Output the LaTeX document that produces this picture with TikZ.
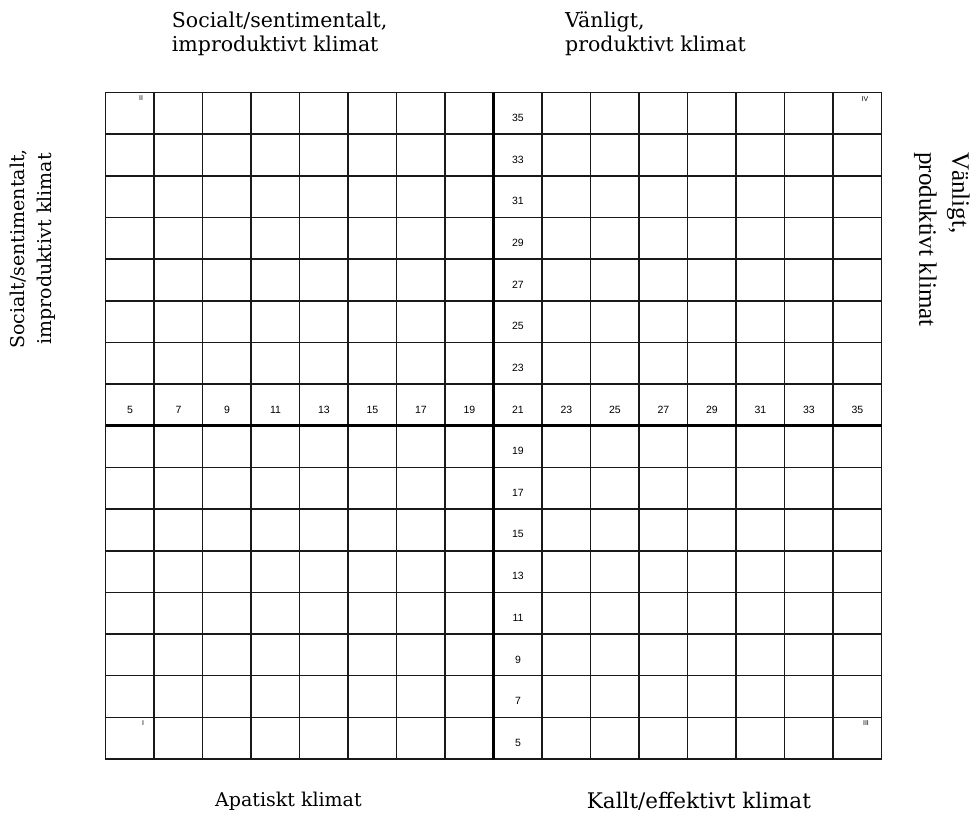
\documentclass[tikz,border=0pt]{standalone}
\usepackage{fontspec}
\setmainfont{DejaVu Serif}
\newfontfamily\numfont{Liberation Sans}
\newfontfamily\timesfont{Liberation Serif}

\begin{document}
\begin{tikzpicture}[x=1pt, y=-1pt,
        gridline/.style={line width=1.5pt, black!90},
        axisline/.style={line width=2.8pt, black},
        cellnum/.style={inner sep=0pt, font=\numfont\fontsize{10.5}{11}\selectfont},
        quadnum/.style={inner sep=0pt, font=\numfont\fontsize{7}{7}\selectfont},
        climate/.style={inner sep=0pt, font=\fontsize{19}{23.5}\selectfont, align=left}]
    \useasboundingbox (0,0) rectangle (972,814);
    \def\gx{105.7} \def\gy{92.5} \def\cw{48.5} \def\rh{41.66}
    \coordinate (NW) at (\gx,\gy);
    \coordinate (SE) at (\gx+16*\cw,\gy+16*\rh);
    \foreach \i in {1,...,15} {
        \draw[gridline] (\gx+\i*\cw,\gy) -- (\gx+\i*\cw,\gy+16*\rh);
        \draw[gridline] (\gx,\gy+\i*\rh) -- (\gx+16*\cw,\gy+\i*\rh);
    }
    \draw[gridline] (NW) rectangle (SE);
    \draw[axisline] (\gx+8*\cw,\gy) -- (\gx+8*\cw,\gy+16*\rh);
    \draw[axisline] (\gx,\gy+8*\rh) -- (\gx+16*\cw,\gy+8*\rh);
    \foreach \k in {0,...,15} {
        \pgfmathtruncatemacro\v{5+2*\k}
        \node[cellnum] (row\v) at (\gx+\k*\cw+0.5*\cw,\gy+7.5*\rh+4.5) {\v};
    }
    \foreach \r in {0,...,15} {
        \pgfmathtruncatemacro\v{35-2*\r}
        \ifnum\r=7\else
            \node[cellnum] (col\v) at (\gx+8.5*\cw,\gy+\r*\rh+0.5*\rh+4.5) {\v};
        \fi
    }
    \node[quadnum] (qII) at (141,98) {II};
    \node[quadnum] (qIV) at (865,99) {IV};
    \node[quadnum] (qI) at (143,723) {I};
    \node[quadnum] (qIII) at (866,723) {III};
    \node[climate, anchor=north west, font=\fontsize{20.5}{24}\selectfont] (soc) at (171.7,12) {Socialt/sentimentalt,\\improduktivt klimat};
    \node[climate, anchor=north west, font=\fontsize{20.5}{24}\selectfont] (van) at (565,12) {Vänligt,\\produktivt klimat};
    \node[climate, anchor=base west] (apa) at (215,806) {Apatiskt klimat};
    \node[climate, anchor=base west, font=\fontsize{21.5}{24}\selectfont] (kal) at (586.7,808) {Kallt/effektivt klimat};
    \node[climate, rotate=90, align=center, font=\fontsize{19}{26.7}\selectfont] (socv) at (32.5,249) {Socialt/sentimentalt,\\improduktivt klimat};
    \node[inner sep=0pt, rotate=-90, anchor=west, align=left, font=\timesfont\fontsize{25}{33}\selectfont] (vanv) at (942,152) {Vänligt,\\produktivt klimat};
\end{tikzpicture}
\end{document}
